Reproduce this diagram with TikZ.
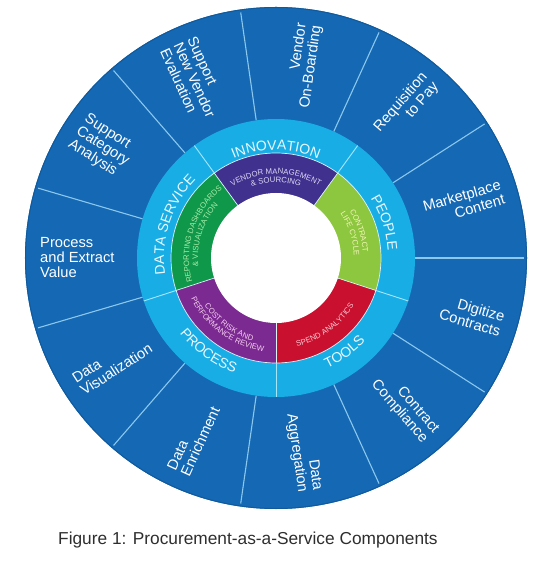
\documentclass[tikz,border=0pt]{standalone}
\usepackage{fontspec}
\setmainfont{Liberation Sans}
\usepackage{tikz}
\usetikzlibrary{decorations.text}
\definecolor{outerblue}{HTML}{1468B4}
\definecolor{outeredgecol}{HTML}{105A9C}
\definecolor{ringblue}{HTML}{19ADE6}
\definecolor{sepblue}{HTML}{8CC8EE}
\definecolor{ringsepcol}{HTML}{A5E6FB}
\definecolor{vendorcol}{HTML}{41318E}
\definecolor{contractcol}{HTML}{8DC63F}
\definecolor{spendcol}{HTML}{C9102F}
\definecolor{costcol}{HTML}{7B2A91}
\definecolor{reportcol}{HTML}{10984A}
\definecolor{vendortext}{HTML}{DCD6F5}
\definecolor{contracttext}{HTML}{F2F7B8}
\definecolor{spendtext}{HTML}{F9C9D2}
\definecolor{costtext}{HTML}{F5CDEF}
\definecolor{reporttext}{HTML}{A8EBA8}
\definecolor{ringtext}{HTML}{EAF8FE}
\definecolor{captiongray}{HTML}{2E2E2E}
\newcommand{\ringfont}{\fontsize{14}{14}\selectfont\color{ringtext}}
\newcommand{\segfont}[1]{\fontsize{7.8}{8}\selectfont\color{#1}}
\tikzset{
  outerlabel/.style={
    text=white, inner sep=0pt,
    font=\fontsize{14.7}{15}\selectfont
  },
  rightlabel/.style={outerlabel, anchor=east, align=right},
  leftlabel/.style={outerlabel, anchor=west, align=left},
  outersep/.style={draw=sepblue, line width=1.1pt},
  ringline/.style={draw=ringsepcol, line width=0.9pt},
  segline/.style={draw=white!85!ringblue, line width=0.7pt},
  arctext/.style={decorate, decoration={text along path, text align=center, text={#1}}}
}

\begin{document}
\begin{tikzpicture}[x=1pt, y=1pt]
    \useasboundingbox (-276,-322) rectangle (273,258);
    \fill[outerblue] (0,0) circle (251);
    \draw[outeredgecol, line width=1pt] (0,0) circle (250.5);
    \foreach \k in {0,...,10}
      \draw[outersep] ({\k*360/11}:139) -- ({\k*360/11}:248);
    \fill[ringblue] (0,0) circle (139);
    \foreach \a in {54,126,...,342}
      \draw[ringline] (\a:105) -- (\a:139);
    \fill[vendorcol] (0,0) -- (54:105) arc[start angle=54, end angle=126, radius=105] -- cycle;
    \fill[reportcol] (0,0) -- (126:105) arc[start angle=126, end angle=198, radius=105] -- cycle;
    \fill[costcol] (0,0) -- (198:105) arc[start angle=198, end angle=270, radius=105] -- cycle;
    \fill[spendcol] (0,0) -- (270:105) arc[start angle=270, end angle=342, radius=105] -- cycle;
    \fill[contractcol] (0,0) -- (-18:105) arc[start angle=-18, end angle=54, radius=105] -- cycle;
    \foreach \a in {54,126,...,342}
      \draw[segline] (0,0) -- (\a:105);
    \draw[segline] (0,0) circle (105);
    \fill[white] (0,0) circle (65);
    \path[arctext={|\ringfont|INNOVATION}] (126:108) arc[start angle=126, end angle=54, radius=108];
    \path[arctext={|\ringfont|DATA SERVICE}] (198:112) arc[start angle=198, end angle=126, radius=112];
    \path[arctext={|\ringfont|PEOPLE}] (54:112) arc[start angle=54, end angle=-18, radius=112];
    \path[arctext={|\ringfont|PROCESS}] (198:122) arc[start angle=198, end angle=270, radius=122];
    \path[arctext={|\ringfont|TOOLS}] (270:122) arc[start angle=270, end angle=342, radius=122];
    \path[arctext={|\segfont{vendortext}|VENDOR MANAGEMENT}] (126:84) arc[start angle=126, end angle=54, radius=84];
    \path[arctext={|\segfont{vendortext}|{\&} SOURCING}] (126:75.5) arc[start angle=126, end angle=54, radius=75.5];
    \path[arctext={|\segfont{reporttext}|REPORTING DASHBOARDS}] (198:87) arc[start angle=198, end angle=126, radius=87];
    \path[arctext={|\segfont{reporttext}|{\&} VISUALIZATION}] (198:78) arc[start angle=198, end angle=126, radius=78];
    \path[arctext={|\segfont{contracttext}|CONTRACT}] (54:87) arc[start angle=54, end angle=-18, radius=87];
    \path[arctext={|\segfont{contracttext}|LIFE CYCLE}] (54:78) arc[start angle=54, end angle=-18, radius=78];
    \path[arctext={|\segfont{costtext}|COST RISK AND}] (198:86) arc[start angle=198, end angle=270, radius=86];
    \path[arctext={|\segfont{costtext}|PERFORMANCE REVIEW}] (198:94) arc[start angle=198, end angle=270, radius=94];
    \path[arctext={|\segfont{spendtext}|SPEND ANALYTICS}] (270:91) arc[start angle=270, end angle=342, radius=91];
    \node[rightlabel, rotate=16.36] (o1) at (16.36:236) {Marketplace\\Content};
    \node[rightlabel, rotate=49.09] (o2) at (49.09:236) {Requisition\\to Pay};
    \node[rightlabel, rotate=81.82] (o3) at (81.82:236) {Vendor\\On-Boarding};
    \node[leftlabel, rotate=-65.45] (o4) at (114.55:236) {Support\\New Vendor\\Evaluation};
    \node[leftlabel, rotate=-32.73] (o5) at (147.27:236) {Support\\Category\\Analysis};
    \node[leftlabel] (o6) at (180:236) {Process\\and Extract\\Value};
    \node[leftlabel, rotate=32.73] (o7) at (212.73:236) {Data\\Visualization};
    \node[leftlabel, rotate=65.45] (o8) at (245.45:236) {Data\\Enrichment};
    \node[rightlabel, rotate=-81.82] (o9) at (278.18:236) {Data\\Aggregation};
    \node[rightlabel, rotate=-49.09] (o10) at (310.91:236) {Contract\\Compliance};
    \node[rightlabel, rotate=-16.36] (o11) at (343.64:236) {Digitize\\Contracts};
    \node[anchor=west, inner sep=0pt, text=captiongray, font=\fontsize{17.3}{20}\selectfont] (caption) at (-218,-282) {Figure 1: Procurement-as-a-Service Components};
\end{tikzpicture}
\end{document}
